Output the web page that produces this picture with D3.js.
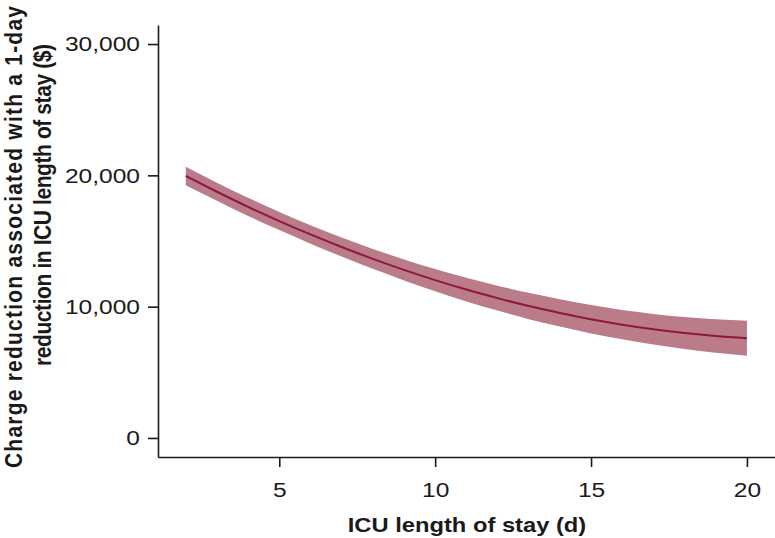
<!DOCTYPE html>
<html>
<head>
<meta charset="utf-8">
<script src="https://cdn.jsdelivr.net/npm/d3@7"></script>
<style>
  html, body { margin: 0; padding: 0; background: #fff; }
  svg { display: block; }
  text { font-family: "Liberation Sans", Arial, Helvetica, sans-serif; fill: #1a1a1a; }
</style>
</head>
<body>
<svg id="chart" width="775" height="538"></svg>
<script>
// ---- data ----
const losDays = [2, 3, 4, 5, 6, 7, 8, 9, 10, 11, 12, 13, 14, 15, 16, 17, 18, 19, 20];
const chargeReduction = [19950, 18750, 17600, 16520, 15500, 14540, 13640, 12800, 12020, 11300, 10650, 10050, 9520, 9040, 8630, 8280, 7990, 7760, 7590];
const ciLower = [19250, 18060, 16910, 15830, 14800, 13820, 12880, 12000, 11170, 10400, 9700, 9050, 8480, 7960, 7510, 7110, 6770, 6480, 6260];
const ciUpper = [20650, 19440, 18290, 17210, 16200, 15260, 14400, 13600, 12870, 12200, 11600, 11050, 10560, 10120, 9750, 9450, 9210, 9040, 8920];
const xTicks = [5, 10, 15, 20];
const yTicks = [0, 10000, 20000, 30000];
const xTitle = "ICU length of stay (d)";
const yTitleLines = ["Charge reduction associated with a 1-day", "reduction in ICU length of stay ($)"];

const data = losDays.map((d, i) => ({ x: d, y: chargeReduction[i], lo: ciLower[i], hi: ciUpper[i] }));

const svg = d3.select("#chart");
const SX = 1.17; // horizontal stretch of text glyphs in the reference

const x = d3.scaleLinear().domain([1.11, 20.9]).range([158, 775]);
const y = d3.scaleLinear().domain([-1450, 31450]).range([457, 25]);

// confidence band
svg.append("path")
  .datum(data)
  .attr("fill", "#b97c88")
  .attr("d", d3.area().x(d => x(d.x)).y0(d => y(d.lo)).y1(d => y(d.hi)).curve(d3.curveMonotoneX));

// fitted line
svg.append("path")
  .datum(data)
  .attr("fill", "none")
  .attr("stroke", "#8e1740")
  .attr("stroke-width", 2)
  .attr("d", d3.line().x(d => x(d.x)).y(d => y(d.y)).curve(d3.curveMonotoneX));

// y axis
const yAxis = svg.append("g")
  .attr("transform", "translate(158,0)")
  .call(d3.axisLeft(y).tickValues(yTicks).tickSize(10).tickSizeOuter(0).tickFormat(d3.format(",")));
// x axis
const xAxis = svg.append("g")
  .attr("transform", "translate(0,457)")
  .call(d3.axisBottom(x).tickValues(xTicks).tickSize(10).tickSizeOuter(0));

[yAxis, xAxis].forEach(g => {
  g.select(".domain").attr("stroke", "#1a1a1a").attr("stroke-width", 1.6);
  g.selectAll(".tick line").attr("stroke", "#1a1a1a").attr("stroke-width", 1.6);
  g.selectAll(".tick text").attr("font-size", 21).attr("fill", "#1a1a1a")
    .style("font-family", "'Liberation Sans', Arial, sans-serif");
});
yAxis.selectAll(".tick text").attr("x", -18 / SX).attr("transform", `scale(${SX},1)`);
xAxis.selectAll(".tick text").attr("y", 40).attr("dy", null).attr("transform", `scale(${SX},1)`);

// x title
svg.append("text")
  .attr("transform", `translate(467,532) scale(1.13,1)`)
  .attr("text-anchor", "middle")
  .attr("font-size", 21)
  .attr("font-weight", "bold")
  .text(xTitle);

// y title (two lines)
svg.append("text")
  .attr("transform", `translate(22,468) scale(${SX},1) rotate(-90)`)
  .attr("text-anchor", "start")
  .attr("font-size", 21)
  .attr("font-weight", "bold")
  .attr("textLength", 462)
  .attr("lengthAdjust", "spacing")
  .text(yTitleLines[0]);
svg.append("text")
  .attr("transform", `translate(51,366) scale(${SX},1) rotate(-90)`)
  .attr("text-anchor", "start")
  .attr("font-size", 21)
  .attr("font-weight", "bold")
  .attr("textLength", 322)
  .attr("lengthAdjust", "spacing")
  .text(yTitleLines[1]);
</script>
</body>
</html>
